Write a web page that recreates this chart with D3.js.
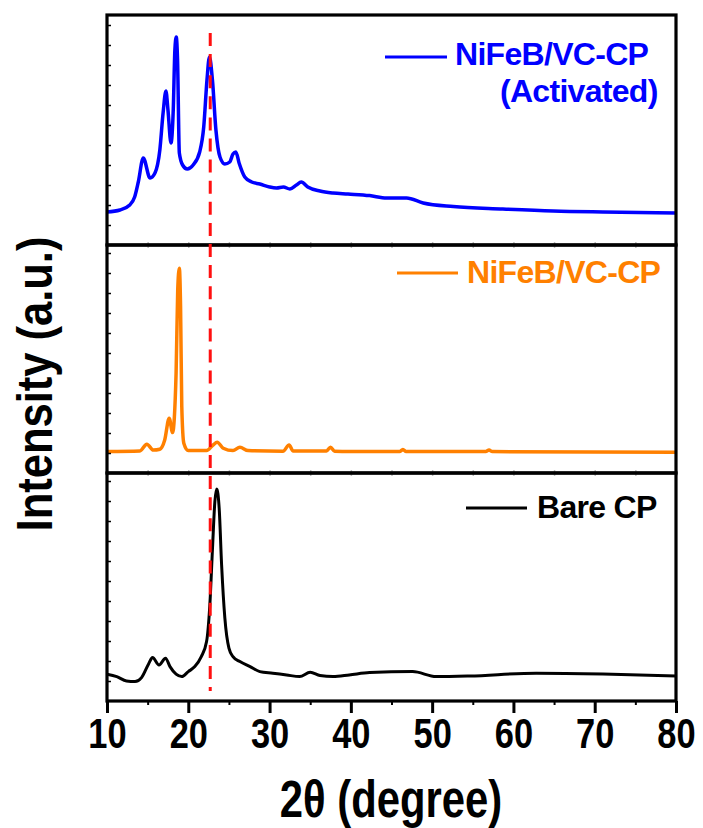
<!DOCTYPE html>
<html>
<head>
<meta charset="utf-8">
<script src="https://cdn.jsdelivr.net/npm/d3@7"></script>
<style>
  body { margin: 0; background: #fff; }
  svg { display: block; }
  text { font-family: "Liberation Sans", Arial, sans-serif; font-weight: bold; }
</style>
</head>
<body>
<svg id="chart" width="703" height="828"></svg>
<script>
// XRD patterns, 2θ in degrees, intensity in arbitrary units (one panel per sample)
const activatedAngle = [10.0, 11.6, 12.8, 13.4, 13.85, 14.46, 15.3, 15.9, 16.5, 16.9, 17.25, 17.5, 17.87, 18.15, 18.35, 18.52, 18.68, 18.9, 19.3, 19.87, 20.6, 21.4, 21.9, 22.3, 22.6, 22.97, 23.4, 23.9, 24.5, 25.1, 25.5, 25.85, 26.25, 26.95, 27.8, 28.8, 30.0, 30.85, 31.7, 32.5, 33.3, 33.9, 34.7, 36.2, 37.8, 39.65, 42.3, 44.4, 46.85, 48.9, 52.6, 58.7, 64.9, 71.0, 80.0];
const activatedIntensity = [165, 175, 200, 240, 315, 435, 335, 360, 475, 660, 770, 675, 510, 675, 975, 1040, 925, 460, 400, 380, 400, 465, 590, 825, 940, 825, 575, 440, 405, 415, 455, 465, 410, 340, 315, 305, 290, 285, 290, 280, 300, 315, 290, 270, 260, 255, 247, 235, 235, 210, 192, 180, 170, 165, 160];

const asMadeAngle = [10.0, 14.05, 14.9, 15.7, 16.5, 17.1, 17.65, 18.07, 18.5, 18.7, 18.9, 19.05, 19.2, 19.45, 20.0, 22.25, 23.05, 23.55, 24.3, 25.5, 26.35, 27.35, 31.65, 32.4, 32.9, 37.0, 37.5, 38.0, 39.85, 46.0, 46.4, 46.8, 56.6, 57.0, 57.4, 80.0];
const asMadeIntensity = [107, 110, 144, 115, 119, 165, 274, 202, 500, 915, 1024, 832, 332, 149, 112, 112, 140, 154, 124, 112, 129, 112, 109, 140, 110, 110, 129, 109, 107, 107, 118, 107, 108, 115, 107, 104];

const bareAngle = [10.0, 11.2, 12.4, 13.45, 14.25, 15.1, 15.6, 16.4, 17.2, 17.75, 18.5, 19.2, 20.0, 20.8, 21.6, 22.25, 22.65, 22.98, 23.27, 23.5, 23.8, 24.1, 24.5, 25.0, 25.5, 26.35, 27.6, 28.8, 30.4, 32.1, 33.7, 35.0, 36.2, 37.8, 39.8, 42.3, 47.6, 50.5, 54.6, 62.8, 71.0, 80.0];
const bareIntensity = [134, 122, 100, 97, 117, 184, 217, 180, 214, 172, 134, 122, 147, 172, 222, 297, 480, 764, 997, 1060, 964, 680, 414, 264, 222, 197, 172, 147, 139, 130, 122, 144, 127, 122, 130, 142, 147, 122, 125, 139, 135, 125];

const seriesNames = [["NiFeB/VC-CP", "(Activated)"], ["NiFeB/VC-CP"], ["Bare CP"]];
const seriesColors = ["#0000ff", "#ff8000", "#000000"];
const intensityMax = [1150, 1140, 1140];

const xMajorTicks = [10, 20, 30, 40, 50, 60, 70, 80];
const xMinorTicks = [15, 25, 35, 45, 55, 65, 75];
const xTickLabels = ["10", "20", "30", "40", "50", "60", "70", "80"];
const markerAngle = 22.7;

const xTitle = "2θ (degree)";
const yTitle = "Intensity (a.u.)";

// ---- layout ----
const plotLeft = 107, plotRight = 676;
const panelEdges = [15, 245, 473, 701];

const svg = d3.select("#chart");
svg.append("rect").attr("width", 703).attr("height", 828).attr("fill", "#fff");

const x = d3.scaleLinear().domain([10, 80]).range([plotLeft, plotRight]);

const seriesData = [
  d3.zip(activatedAngle, activatedIntensity),
  d3.zip(asMadeAngle, asMadeIntensity),
  d3.zip(bareAngle, bareIntensity)
];

const defs = svg.append("defs");

seriesData.forEach((data, i) => {
  const top = panelEdges[i], bottom = panelEdges[i + 1];
  const y = d3.scaleLinear().domain([0, intensityMax[i]]).range([bottom, top]);

  defs.append("clipPath").attr("id", "clip" + i)
    .append("rect").attr("x", plotLeft).attr("y", top)
    .attr("width", plotRight - plotLeft).attr("height", bottom - top);

  const line = d3.line()
    .x(d => x(d[0]))
    .y(d => y(d[1]))
    .curve(d3.curveMonotoneX);

  svg.append("path")
    .datum(data)
    .attr("clip-path", `url(#clip${i})`)
    .attr("fill", "none")
    .attr("stroke", seriesColors[i])
    .attr("stroke-width", i === 2 ? 3 : 3.5)
    .attr("stroke-linejoin", "round")
    .attr("d", line);

  // unlabeled intensity ticks on the left edge, pointing inward
  const yAxis = d3.axisLeft(y)
    .tickValues(d3.range(100, intensityMax[i], 100))
    .tickSize(-4)
    .tickFormat("");
  const ga = svg.append("g").attr("transform", `translate(${plotLeft},0)`).call(yAxis);
  ga.select(".domain").remove();
  ga.selectAll(".tick line").attr("stroke", "#000").attr("stroke-width", 1.5);

  // faint 2θ ticks along the panel bottom edge
  if (i < 2) {
    const sep = svg.append("g").attr("transform", `translate(0,${bottom})`)
      .call(d3.axisBottom(x).tickValues(xMajorTicks.concat(xMinorTicks)).tickSize(3).tickFormat(""));
    sep.select(".domain").remove();
    sep.selectAll(".tick line").attr("stroke", "#bbb").attr("stroke-width", 1.5).attr("y1", -3);
  }
});

// panel frames
for (let i = 0; i < 3; i++) {
  svg.append("rect")
    .attr("x", plotLeft).attr("y", panelEdges[i])
    .attr("width", plotRight - plotLeft).attr("height", panelEdges[i + 1] - panelEdges[i])
    .attr("fill", "none").attr("stroke", "#000").attr("stroke-width", 3.2);
}

// bottom 2θ axis: major ticks with labels, minor ticks without
const xMajor = svg.append("g").attr("transform", `translate(0,${panelEdges[3]})`)
  .call(d3.axisBottom(x).tickValues(xMajorTicks).tickSize(12).tickPadding(5)
    .tickFormat((d, i) => xTickLabels[i]));
xMajor.select(".domain").remove();
xMajor.selectAll(".tick line").attr("stroke", "#000").attr("stroke-width", 3);
xMajor.selectAll(".tick text")
  .attr("fill", "#000")
  .style("font-size", "42px")
  .style("font-family", "'Liberation Sans', Arial, sans-serif")
  .style("font-weight", "bold")
  .attr("transform", "scale(0.82,1)");

const xMinor = svg.append("g").attr("transform", `translate(0,${panelEdges[3]})`)
  .call(d3.axisBottom(x).tickValues(xMinorTicks).tickSize(4).tickFormat(""));
xMinor.select(".domain").remove();
xMinor.selectAll(".tick line").attr("stroke", "#000").attr("stroke-width", 2);

// reference position marker
svg.append("line")
  .attr("x1", x(markerAngle)).attr("x2", x(markerAngle))
  .attr("y1", 33).attr("y2", 691)
  .attr("stroke", "#ff1010").attr("stroke-width", 3)
  .attr("stroke-dasharray", "13,8.1");

// legends
const legends = [
  { lineX: [385, 447], lineY: 57, textX: [455, 500], textY: [65, 102] },
  { lineX: [397, 458], lineY: 273, textX: [467], textY: [283] },
  { lineX: [466, 527], lineY: 508, textX: [537], textY: [518] }
];
legends.forEach((lg, i) => {
  svg.append("line")
    .attr("x1", lg.lineX[0]).attr("x2", lg.lineX[1])
    .attr("y1", lg.lineY).attr("y2", lg.lineY)
    .attr("stroke", seriesColors[i]).attr("stroke-width", 3);
  seriesNames[i].forEach((label, j) => {
    svg.append("text")
      .attr("x", lg.textX[j]).attr("y", lg.textY[j])
      .attr("fill", seriesColors[i])
      .style("font-size", "32px")
      .style("letter-spacing", "-0.7px")
      .text(label);
  });
});

// axis titles
svg.append("text")
  .attr("transform", "translate(391,817) scale(0.82,1)")
  .attr("text-anchor", "middle")
  .style("font-size", "51px")
  .attr("fill", "#000")
  .text(xTitle);

svg.append("text")
  .attr("transform", "translate(52,384) rotate(-90) scale(0.87,1)")
  .attr("text-anchor", "middle")
  .style("font-size", "50px")
  .attr("fill", "#000")
  .text(yTitle);
</script>
</body>
</html>
